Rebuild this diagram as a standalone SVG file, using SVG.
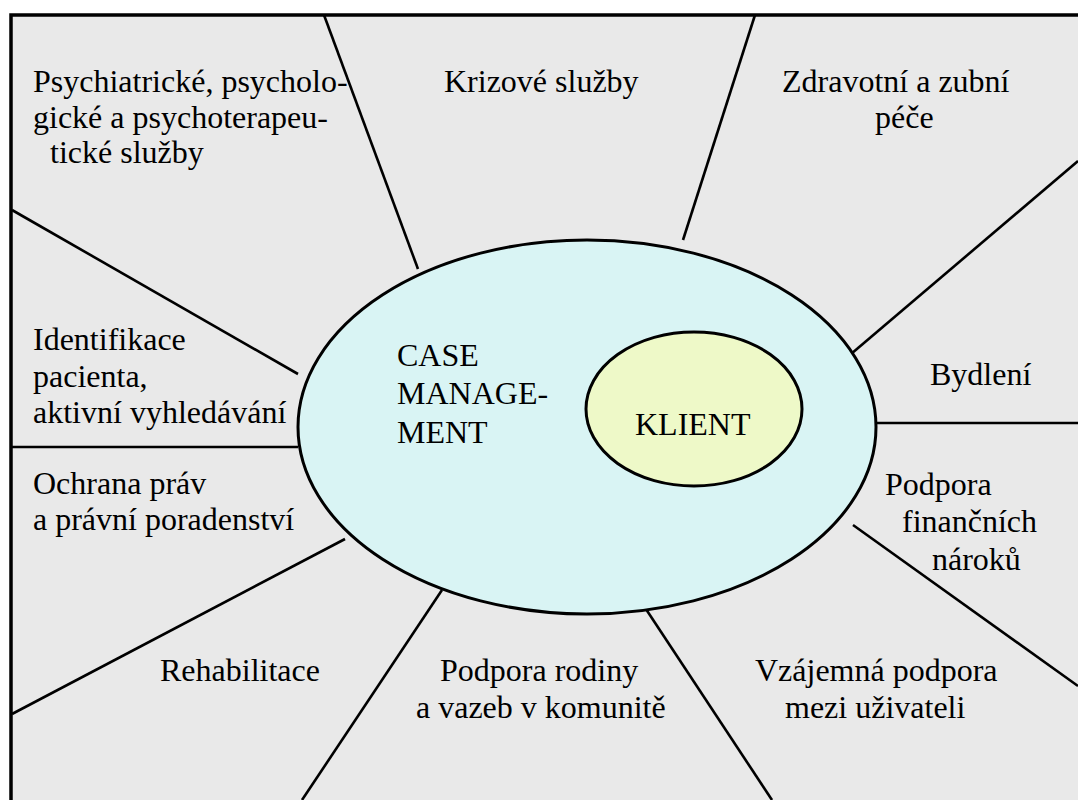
<svg xmlns="http://www.w3.org/2000/svg" width="1078" height="800" viewBox="0 0 1078 800">
<style>
.lbl{font-family:"Liberation Serif","Times New Roman",serif;font-size:32px;fill:#000}
.spoke{stroke:#000;stroke-width:2.6;fill:none}
.ell{stroke:#000;stroke-width:3}
</style>
<rect x="0" y="0" width="1078" height="800" fill="#ffffff"/>
<g id="frame">
<rect x="11" y="15" width="1080" height="800" fill="#e9e9e9" stroke="#000" stroke-width="3.5"/>
</g>
<g id="connectors">
<line class="spoke" x1="324" y1="15" x2="418" y2="269"/>
<line class="spoke" x1="755" y1="15" x2="683" y2="240"/>
<line class="spoke" x1="1078" y1="161" x2="851" y2="354"/>
<line class="spoke" x1="876" y1="423" x2="1078" y2="423"/>
<line class="spoke" x1="853" y1="525" x2="1078" y2="686"/>
<line class="spoke" x1="636" y1="594" x2="772" y2="800"/>
<line class="spoke" x1="442" y1="590" x2="302" y2="800"/>
<line class="spoke" x1="345" y1="539" x2="12" y2="714"/>
<line class="spoke" x1="12" y1="447" x2="298" y2="447"/>
<line class="spoke" x1="12" y1="210" x2="298" y2="374"/>
</g>
<g id="case-management">
<ellipse class="ell" cx="587" cy="427" rx="289" ry="187" fill="#d9f4f4"/>
<text class="lbl" x="397"><tspan x="397" y="366">CASE</tspan><tspan x="397" y="404">MANAGE-</tspan><tspan x="397" y="443">MENT</tspan></text>
</g>
<g id="klient">
<ellipse class="ell" cx="694" cy="409" rx="108" ry="77" fill="#eef9c8"/>
<text class="lbl" x="635" y="435">KLIENT</text>
</g>
<g id="psychiatricke">
<text class="lbl"><tspan x="33" y="92">Psychiatrické, psycholo-</tspan><tspan x="33" y="128">gické a psychoterapeu-</tspan><tspan x="50" y="163">tické služby</tspan></text>
</g>
<g id="krizove">
<text class="lbl" x="444" y="92">Krizové služby</text>
</g>
<g id="zdravotni">
<text class="lbl"><tspan x="782" y="92">Zdravotní a zubní</tspan><tspan x="875" y="128">péče</tspan></text>
</g>
<g id="identifikace">
<text class="lbl"><tspan x="33" y="350">Identifikace</tspan><tspan x="33" y="387">pacienta,</tspan><tspan x="33" y="423">aktivní vyhledávání</tspan></text>
</g>
<g id="bydleni">
<text class="lbl" x="930" y="385">Bydlení</text>
</g>
<g id="ochrana">
<text class="lbl"><tspan x="33" y="494">Ochrana práv</tspan><tspan x="33" y="530">a právní poradenství</tspan></text>
</g>
<g id="financni">
<text class="lbl"><tspan x="885" y="495">Podpora</tspan><tspan x="902" y="532">finančních</tspan><tspan x="932" y="570">nároků</tspan></text>
</g>
<g id="rehabilitace">
<text class="lbl" x="160" y="681">Rehabilitace</text>
</g>
<g id="rodina">
<text class="lbl"><tspan x="440" y="681">Podpora rodiny</tspan><tspan x="416" y="718">a vazeb v komunitě</tspan></text>
</g>
<g id="vzajemna">
<text class="lbl"><tspan x="755" y="681">Vzájemná podpora</tspan><tspan x="785" y="718">mezi uživateli</tspan></text>
</g>
</svg>
